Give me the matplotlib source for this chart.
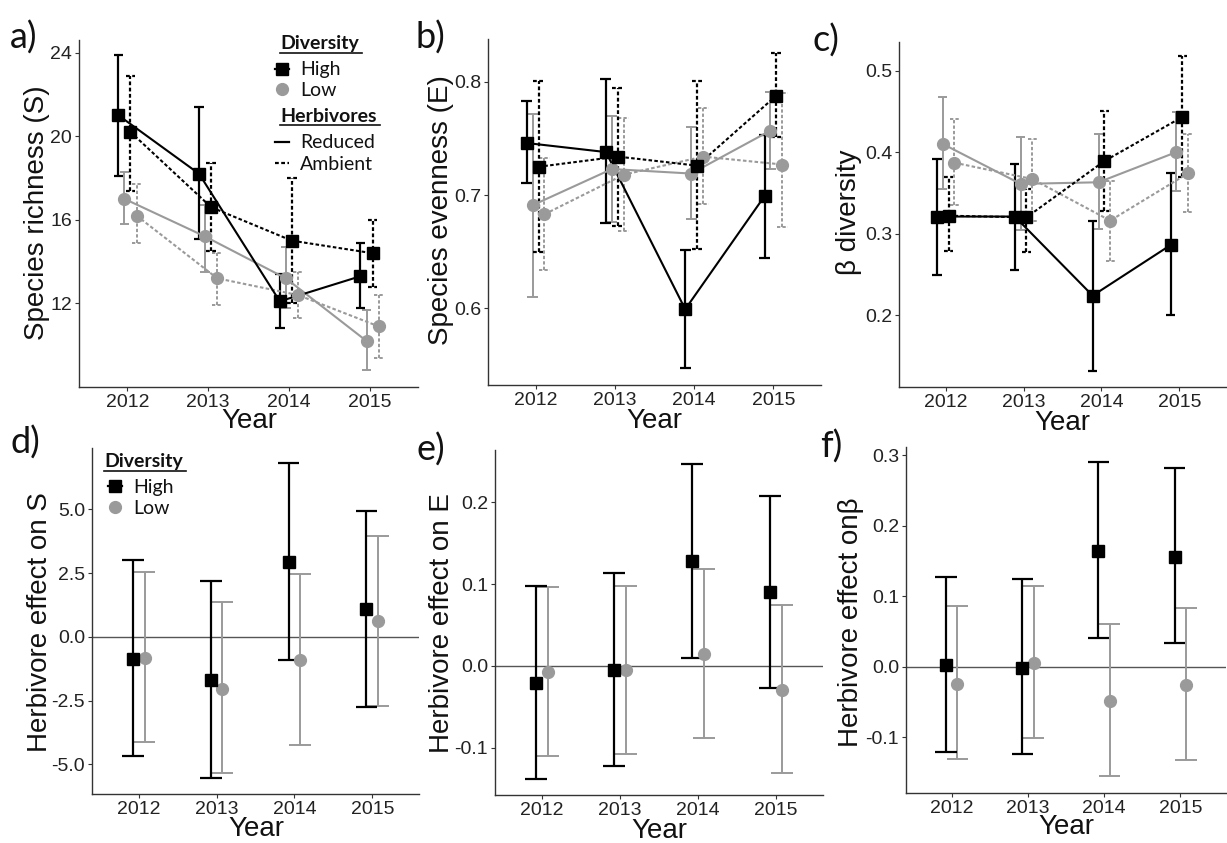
import matplotlib
matplotlib.use("Agg")
import matplotlib.pyplot as plt
from matplotlib.lines import Line2D
import numpy as np

# ---------------- data ----------------
years = ["2012", "2013", "2014", "2015"]

# a) species richness
S_hr = [21.0, 18.2, 12.1, 13.3]
S_hr_lo = [18.1, 15.1, 10.8, 11.8]
S_hr_hi = [23.9, 21.4, 13.4, 14.9]
S_ha = [20.2, 16.6, 15.0, 14.4]
S_ha_lo = [17.4, 14.5, 12.0, 12.8]
S_ha_hi = [22.9, 18.7, 18.0, 16.0]
S_lr = [17.0, 15.2, 13.2, 10.2]
S_lr_lo = [15.8, 13.5, 11.8, 8.8]
S_lr_hi = [18.3, 16.7, 14.7, 11.7]
S_la = [16.2, 13.2, 12.4, 10.9]
S_la_lo = [14.9, 11.9, 11.3, 9.4]
S_la_hi = [17.7, 14.4, 13.5, 12.4]

# b) species evenness
E_hr = [0.746, 0.738, 0.599, 0.699]
E_hr_lo = [0.711, 0.675, 0.547, 0.644]
E_hr_hi = [0.783, 0.803, 0.651, 0.753]
E_ha = [0.725, 0.734, 0.726, 0.788]
E_ha_lo = [0.650, 0.673, 0.652, 0.751]
E_ha_hi = [0.801, 0.795, 0.801, 0.826]
E_lr = [0.691, 0.723, 0.719, 0.757]
E_lr_lo = [0.610, 0.676, 0.679, 0.723]
E_lr_hi = [0.772, 0.770, 0.760, 0.791]
E_la = [0.683, 0.718, 0.734, 0.727]
E_la_lo = [0.634, 0.668, 0.692, 0.672]
E_la_hi = [0.733, 0.768, 0.777, 0.790]

# c) beta diversity
B_hr = [0.321, 0.321, 0.224, 0.286]
B_hr_lo = [0.249, 0.256, 0.132, 0.200]
B_hr_hi = [0.392, 0.386, 0.316, 0.374]
B_ha = [0.322, 0.320, 0.389, 0.443]
B_ha_lo = [0.279, 0.277, 0.328, 0.369]
B_ha_hi = [0.369, 0.355, 0.451, 0.518]
B_lr = [0.410, 0.361, 0.363, 0.400]
B_lr_lo = [0.355, 0.304, 0.306, 0.352]
B_lr_hi = [0.467, 0.418, 0.422, 0.449]
B_la = [0.387, 0.367, 0.316, 0.374]
B_la_lo = [0.335, 0.316, 0.267, 0.327]
B_la_hi = [0.441, 0.416, 0.365, 0.422]

# d) herbivore effect on S
dS_h = [-0.86, -1.69, 2.93, 1.08]
dS_h_lo = [-4.69, -5.54, -0.90, -2.76]
dS_h_hi = [3.02, 2.18, 6.81, 4.95]
dS_l = [-0.84, -2.04, -0.90, 0.63]
dS_l_lo = [-4.14, -5.35, -4.24, -2.71]
dS_l_hi = [2.54, 1.35, 2.46, 3.97]

# e) herbivore effect on E
dE_h = [-0.021, -0.005, 0.128, 0.090]
dE_h_lo = [-0.138, -0.122, 0.010, -0.027]
dE_h_hi = [0.098, 0.114, 0.247, 0.208]
dE_l = [-0.008, -0.005, 0.014, -0.029]
dE_l_lo = [-0.110, -0.108, -0.088, -0.131]
dE_l_hi = [0.097, 0.098, 0.118, 0.075]

# f) herbivore effect on beta
dB_h = [0.002, -0.002, 0.164, 0.156]
dB_h_lo = [-0.121, -0.124, 0.040, 0.033]
dB_h_hi = [0.128, 0.124, 0.290, 0.282]
dB_l = [-0.024, 0.005, -0.049, -0.026]
dB_l_lo = [-0.131, -0.102, -0.156, -0.133]
dB_l_hi = [0.086, 0.114, 0.060, 0.083]

# ---------------- style ----------------
W, H = 1227, 843
fig = plt.figure(figsize=(W / 100, H / 100), dpi=100)
fig.patch.set_facecolor("white")

BLACK = "#000000"
GREY = "#9a9a9a"
AXC = "#333333"
TICKFONT = "Liberation Sans"
TITLEFONT = "Liberation Sans"
LEGFONT = "Lato"
DASH = (0, (1.7, 1.1))


def fx(x):
    return x / W


def fy(y):
    return 1 - y / H


def axbox(l, r, t, b):
    return fig.add_axes([l / W, 1 - b / H, (r - l) / W, (b - t) / H])


def style(ax, ylim, yticks, yticklabels):
    ax.set_xlim(0.4, 4.6)
    ax.set_ylim(*ylim)
    x = np.arange(1, len(years) + 1)
    ax.set_xticks(x)
    ax.set_xticklabels(years, fontsize=14, family=TICKFONT, color="#222222")
    ax.set_yticks(yticks)
    ax.set_yticklabels(yticklabels, fontsize=14, family=TICKFONT, color="#222222")
    for s in ["top", "right"]:
        ax.spines[s].set_visible(False)
    for s in ["left", "bottom"]:
        ax.spines[s].set_color(AXC)
        ax.spines[s].set_linewidth(1.0)
    ax.tick_params(length=3, width=0.8, color=AXC, pad=2)
    ax.patch.set_alpha(0)


def errbars(ax, x, lo, hi, color, ls, lw, capw):
    ax.vlines(x, lo, hi, colors=color, linestyles=ls, lw=lw, zorder=2)
    ax.hlines(lo, x - capw, x + capw, colors=color, linestyles=ls, lw=lw, zorder=2)
    ax.hlines(hi, x - capw, x + capw, colors=color, linestyles=ls, lw=lw, zorder=2)


def top_panel(ax, groups, capw):
    x = np.arange(1, len(years) + 1)
    for mean, lo, hi, color, ls, marker, off, ms in groups:
        xx = x + off
        elw = 1.6 if color == BLACK else 1.4
        errbars(ax, xx, np.array(lo), np.array(hi), color, ls, elw, capw)
        ax.plot(xx, mean, color=color, linestyle=ls, lw=1.5, zorder=3)
        ax.plot(xx, mean, linestyle="none", marker=marker, ms=ms,
                mfc=color, mec=color, zorder=4)


def bottom_panel(ax, groups, capw):
    x = np.arange(1, len(years) + 1)
    ax.axhline(0, color="#555555", lw=1.0, zorder=1)
    for mean, lo, hi, color, marker, off, ms in groups:
        xx = x + off
        elw = 1.6 if color == BLACK else 1.4
        errbars(ax, xx, np.array(lo), np.array(hi), color, "-", elw, capw)
        ax.plot(xx, mean, linestyle="none", marker=marker, ms=ms,
                mfc=color, mec=color, zorder=4)


SQ = 8.0
CI = 8.5
offs = [-0.1125, -0.0375, 0.0375, 0.1125]

# ---------------- panel a ----------------
ax = axbox(79, 418, 40, 387)
style(ax, (8.0, 24.6), [12, 16, 20, 24], ["12", "16", "20", "24"])
top_panel(ax, [
    (S_lr, S_lr_lo, S_lr_hi, GREY, "-", "o", offs[1], CI),
    (S_la, S_la_lo, S_la_hi, GREY, DASH, "o", offs[3], CI),
    (S_hr, S_hr_lo, S_hr_hi, BLACK, "-", "s", offs[0], SQ),
    (S_ha, S_ha_lo, S_ha_hi, BLACK, DASH, "s", offs[2], SQ),
], 0.06)

# ---------------- panel b ----------------
ax = axbox(488, 821, 39, 385)
style(ax, (0.532, 0.838), [0.6, 0.7, 0.8], ["0.6", "0.7", "0.8"])
top_panel(ax, [
    (E_lr, E_lr_lo, E_lr_hi, GREY, "-", "o", offs[1], CI),
    (E_la, E_la_lo, E_la_hi, GREY, DASH, "o", offs[3], CI),
    (E_hr, E_hr_lo, E_hr_hi, BLACK, "-", "s", offs[0], SQ),
    (E_ha, E_ha_lo, E_ha_hi, BLACK, DASH, "s", offs[2], SQ),
], 0.07)

# ---------------- panel c ----------------
ax = axbox(899, 1226, 42, 387)
style(ax, (0.112, 0.535), [0.2, 0.3, 0.4, 0.5], ["0.2", "0.3", "0.4", "0.5"])
top_panel(ax, [
    (B_lr, B_lr_lo, B_lr_hi, GREY, "-", "o", offs[1], CI),
    (B_la, B_la_lo, B_la_hi, GREY, DASH, "o", offs[3], CI),
    (B_hr, B_hr_lo, B_hr_hi, BLACK, "-", "s", offs[0], SQ),
    (B_ha, B_ha_lo, B_ha_hi, BLACK, DASH, "s", offs[2], SQ),
], 0.06)

# ---------------- panel d ----------------
ax = axbox(92, 419, 448, 794)
style(ax, (-6.16, 7.4), [-5, -2.5, 0, 2.5, 5], ["-5.0", "-2.5", "0.0", "2.5", "5.0"])
bottom_panel(ax, [
    (dS_l, dS_l_lo, dS_l_hi, GREY, "o", 0.075, CI),
    (dS_h, dS_h_lo, dS_h_hi, BLACK, "s", -0.075, SQ),
], 0.14)

# ---------------- panel e ----------------
ax = axbox(495, 823, 450, 795)
style(ax, (-0.158, 0.264), [-0.1, 0.0, 0.1, 0.2], ["-0.1", "0.0", "0.1", "0.2"])
bottom_panel(ax, [
    (dE_l, dE_l_lo, dE_l_hi, GREY, "o", 0.075, CI),
    (dE_h, dE_h_lo, dE_h_hi, BLACK, "s", -0.075, SQ),
], 0.14)

# ---------------- panel f ----------------
ax = axbox(906, 1226, 447, 793)
style(ax, (-0.1795, 0.312), [-0.1, 0.0, 0.1, 0.2, 0.3],
      ["-0.1", "0.0", "0.1", "0.2", "0.3"])
bottom_panel(ax, [
    (dB_l, dB_l_lo, dB_l_hi, GREY, "o", 0.075, CI),
    (dB_h, dB_h_lo, dB_h_hi, BLACK, "s", -0.075, SQ),
], 0.14)

# ---------------- axis titles ----------------
YL = 20
for txt, x, y in [("Species richness (S)", 37, 213),
                  ("Species evenness (E)", 441, 210),
                  ("β diversity", 849, 212),
                  ("Herbivore effect on S", 40, 622),
                  ("Herbivore effect on E", 442, 623),
                  ("Herbivore effect onβ", 851, 622)]:
    fig.text(fx(x), fy(y), txt, rotation=90, ha="center", va="center",
             fontsize=YL, family=[TITLEFONT, "DejaVu Sans"], color="#111111")

for x, y in [(249, 421), (654, 421), (1062, 423), (256, 829), (659, 831), (1066, 827)]:
    fig.text(fx(x), fy(y), "Year", ha="center", va="center",
             fontsize=YL, family=TITLEFONT, color="#111111")

# panel letters
for txt, x, y in [("a)", 10, 38), ("b)", 416, 38), ("c)", 812, 41),
                  ("d)", 10, 443), ("e)", 417, 450), ("f)", 820, 447)]:
    fig.text(fx(x), fy(y), txt, ha="left", va="center", fontsize=26,
             family=LEGFONT, color="#111111")


# ---------------- legends ----------------
def leg_title(x, y, txt, w):
    fig.text(fx(x), fy(y), txt, ha="left", va="center", fontsize=14,
             family=LEGFONT, weight="bold", color="#111111")
    fig.add_artist(Line2D([fx(x), fx(x + w)], [fy(y + 9), fy(y + 9)],
                          color="#111111", lw=1.2))


def leg_item(x, y, txt, color=None, marker=None, ls=None, ms=8):
    if ls is not None:
        fig.add_artist(Line2D([fx(x - 7), fx(x + 7)], [fy(y), fy(y)],
                              color=color, lw=1.6, linestyle=ls))
    if marker is not None:
        fig.add_artist(Line2D([fx(x)], [fy(y)], marker=marker, ms=ms,
                              mfc=color, mec=color, linestyle="none"))
    fig.text(fx(x + 18), fy(y + 1), txt, ha="left", va="center", fontsize=14,
             family=LEGFONT, color="#111111")


# panel a legend
leg_title(280, 44, "Diversity", 82)
leg_item(282, 69, "High", BLACK, "s", "-", SQ)
leg_item(282, 89, "Low", GREY, "o", None, CI)
leg_title(280, 116, "Herbivores", 100)
leg_item(282, 142, "Reduced", BLACK, None, "-")
leg_item(282, 163, "Ambient", BLACK, None, DASH)

# panel d legend
leg_title(104, 462, "Diversity", 82)
leg_item(115, 486, "High", BLACK, "s", "-", SQ)
leg_item(115, 507, "Low", GREY, "o", None, CI)

fig.savefig("out.png", dpi=100, facecolor="white")
